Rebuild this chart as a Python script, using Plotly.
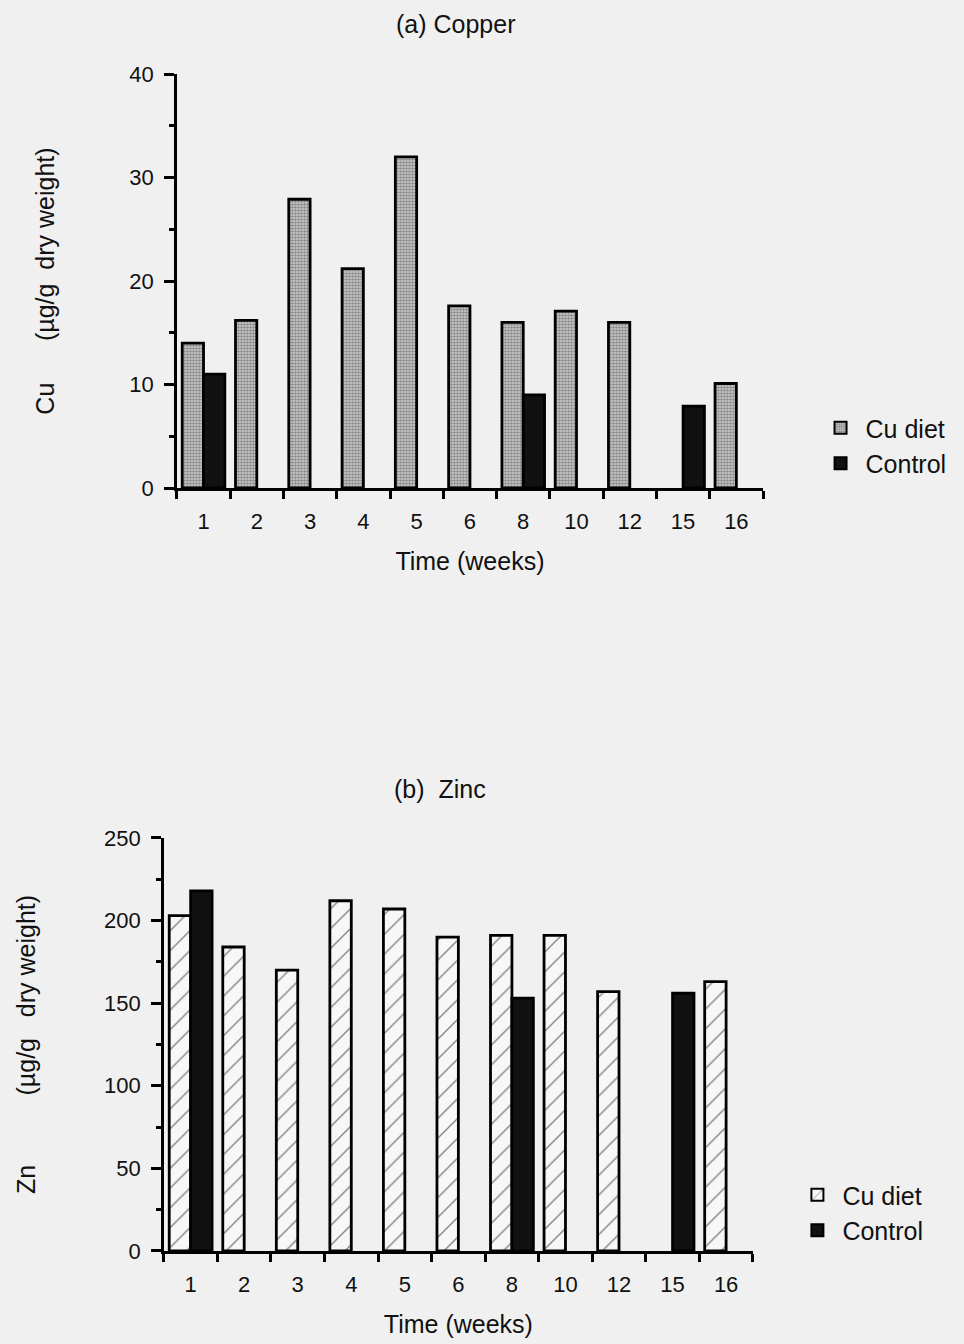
import plotly.graph_objects as go

# Sampling times (weeks)
weeks = ["1", "2", "3", "4", "5", "6", "8", "10", "12", "15", "16"]

# (a) Copper concentration, µg/g dry weight
cu_diet_copper = [14, 16.2, 27.9, 21.2, 32, 17.6, 16, 17.1, 16, None, 10.1]
control_copper = [11, None, None, None, None, None, 9, None, None, 7.9, None]

# (b) Zinc concentration, µg/g dry weight
cu_diet_zinc = [203, 184, 170, 212, 207, 190, 191, 191, 157, None, 163]
control_zinc = [218, None, None, None, None, None, 153, None, None, 156, None]

FONT = "Liberation Sans, Arial, Helvetica, sans-serif"
FS = 22      # tick labels
FT = 25      # titles and legend text
BG = "#f0f0f0"
NB = "\u00a0"

stipple = dict(shape=".", size=3, solidity=0.55, fgcolor="#3a3a3a", bgcolor="#d4d4d4")
dashes = dict(shape="/", size=14, solidity=0.1, fgcolor="#111111", bgcolor="#f7f7f7")
outline = dict(color="black", width=2.8)

fig = go.Figure()

fig.add_trace(go.Bar(x=weeks, y=cu_diet_copper, name="Cu diet", xaxis="x", yaxis="y",
                     marker=dict(color="#d4d4d4", pattern=stipple, line=outline),
                     legend="legend"))
fig.add_trace(go.Bar(x=weeks, y=control_copper, name="Control", xaxis="x", yaxis="y",
                     marker=dict(color="#111111", line=outline), legend="legend"))
fig.add_trace(go.Bar(x=weeks, y=cu_diet_zinc, name="Cu diet", xaxis="x2", yaxis="y2",
                     marker=dict(color="#f7f7f7", pattern=dashes, line=outline),
                     legend="legend2"))
fig.add_trace(go.Bar(x=weeks, y=control_zinc, name="Control", xaxis="x2", yaxis="y2",
                     marker=dict(color="#111111", line=outline), legend="legend2"))

xcommon = dict(type="category", tickson="boundaries", ticks="outside", ticklen=8,
               tickwidth=2.5, tickcolor="black", showline=True, linecolor="black",
               linewidth=2.5, showgrid=False, zeroline=False, ticklabelstandoff=12,
               automargin=False, tickfont=dict(size=FS, color="#111"))
ycommon = dict(ticks="outside", ticklen=10, tickwidth=2.5, tickcolor="black",
               showline=True, linecolor="black", linewidth=2.5, showgrid=False,
               zeroline=False, ticklabelstandoff=6, automargin=False,
               tickfont=dict(size=FS, color="#111"))

fig.update_layout(
    width=964, height=1344,
    margin=dict(l=0, r=0, t=0, b=0, pad=0),
    paper_bgcolor=BG, plot_bgcolor=BG,
    font=dict(family=FONT, size=FS, color="#111"),
    barmode="group", bargap=0.2, bargroupgap=0,
    xaxis=dict(domain=[0.1835, 0.7915], anchor="y",
               title=dict(text="Time (weeks)", standoff=20, font=dict(size=FT)), **xcommon),
    yaxis=dict(domain=[0.6369, 0.9449], anchor="x", range=[0, 40], dtick=10,
               minor=dict(dtick=5, ticks="outside", ticklen=5, tickwidth=2.5, tickcolor="black"),
               title=dict(text="Cu" + NB * 6 + "(µg/g" + NB * 2 + "dry weight)", standoff=68,
                          font=dict(size=FT)), **ycommon),
    xaxis2=dict(domain=[0.17, 0.781], anchor="y2",
                title=dict(text="Time (weeks)", standoff=20, font=dict(size=FT)), **xcommon),
    yaxis2=dict(domain=[0.0692, 0.3765], anchor="x2", range=[0, 250], dtick=50,
                minor=dict(dtick=25, ticks="outside", ticklen=5, tickwidth=2.5, tickcolor="black"),
                title=dict(text="Zn" + NB * 10 + "(µg/g" + NB * 3 + "dry weight)", standoff=62,
                           font=dict(size=FT)), **ycommon),
    legend=dict(x=0.846, y=1 - 405 / 1344, xanchor="left", yanchor="top",
                bgcolor="rgba(0,0,0,0)", font=dict(size=FT), itemsizing="constant",
                itemwidth=40, tracegroupgap=0),
    legend2=dict(x=0.822, y=1 - 1172 / 1344, xanchor="left", yanchor="top",
                 bgcolor="rgba(0,0,0,0)", font=dict(size=FT), itemsizing="constant",
                 itemwidth=40, tracegroupgap=0),
    annotations=[
        dict(text="(a) Copper", x=456 / 964, y=1 - 24 / 1344, xref="paper", yref="paper",
             yanchor="middle", showarrow=False, font=dict(size=FT)),
        dict(text="(b)" + NB * 2 + "Zinc", x=440 / 964, y=1 - 789 / 1344, xref="paper",
             yref="paper", yanchor="middle", showarrow=False, font=dict(size=FT)),
    ],
)

fig.write_html("out.html")
